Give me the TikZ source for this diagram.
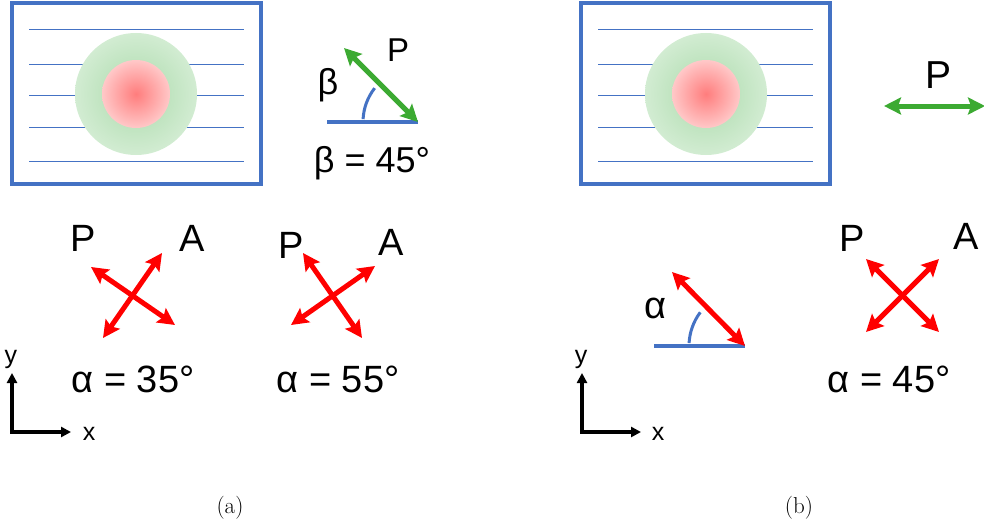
\documentclass[tikz,border=0pt]{standalone}
\usepackage{fontspec}
\newfontfamily\arialf{Liberation Sans}
\usetikzlibrary{arrows.meta}
\definecolor{ublue}{RGB}{68,114,196}
\definecolor{ugreen}{RGB}{60,170,50}
\definecolor{ured}{RGB}{255,0,0}
\definecolor{gin}{RGB}{170,218,170}
\definecolor{gout}{RGB}{210,236,210}
\definecolor{pin}{RGB}{255,125,125}
\definecolor{pout}{RGB}{255,200,200}
\begin{document}
\begin{tikzpicture}[x=1pt,y=-1pt,
  txt/.style={font=\arialf\fontsize{#1}{#1}\selectfont, inner sep=0pt, anchor=base},
  txt/.default=36,
  frame/.style={draw=ublue, line width=3.4pt},
  hline/.style={draw=ublue, line width=0.9pt},
  baseln/.style={draw=ublue, line width=3.2pt},
  anglearc/.style={draw=ublue, line width=3pt},
  redarr/.style={draw=ured, line width=5pt, {Stealth[length=17pt,width=17pt,inset=3pt]}-{Stealth[length=17pt,width=17pt,inset=3pt]}},
  grnarr/.style={draw=ugreen, line width=5pt, {Stealth[length=17pt,width=17pt,inset=3pt]}-{Stealth[length=17pt,width=17pt,inset=3pt]}},
  axis/.style={draw=black, line width=3.2pt, line join=miter, {Triangle[length=10pt,width=10pt]}-{Triangle[length=10pt,width=10pt]}},
  captxt/.style={font=\fontsize{23}{26}\selectfont, inner sep=0pt, anchor=base}
]
\useasboundingbox (0,0) rectangle (984,527);

% ---------- (a) sample ----------
\foreach \yy in {29,64,95,127,161} \draw[hline] (29,\yy) -- (244,\yy);
\shade[inner color=gin, outer color=gout] (136,94) circle[radius=61];
\shade[inner color=pin, outer color=pout] (136,94) circle[radius=34];
\draw[frame] (12,3) rectangle (261,184);

% beta diagram
\coordinate (bO) at (418,122);
\coordinate (bL) at (327,122);
\coordinate (bT) at (344,48);
\draw[baseln] (bL) -- (bO);
\draw[anglearc] (bO) ++(-177:55) arc[start angle=-177, end angle=-142, radius=55];
\draw[grnarr] (bT) -- (bO);
\node[txt=33] (bP) at (398,62) {P};
\node[txt=36] (bB) at (328,94) {β};
\node[txt=36] (bEq) at (372,172) {β = 45°};

% cross alpha=35
\coordinate (c1a) at (91,267);
\coordinate (c1b) at (175,325);
\coordinate (c1c) at (103,338);
\coordinate (c1d) at (162,253);
\draw[redarr] (c1a) -- (c1b);
\draw[redarr] (c1c) -- (c1d);
\node[txt=38] (c1P) at (83,251) {P};
\node[txt=38] (c1A) at (192,251) {A};
\node[txt=38] (c1Eq) at (133,392) {α = 35°};

% cross alpha=55
\coordinate (c2a) at (303,253);
\coordinate (c2b) at (362,338);
\coordinate (c2c) at (291,325);
\coordinate (c2d) at (375,266);
\draw[redarr] (c2a) -- (c2b);
\draw[redarr] (c2c) -- (c2d);
\node[txt=38] (c2P) at (291,258) {P};
\node[txt=38] (c2A) at (391,255) {A};
\node[txt=38] (c2Eq) at (338,392) {α = 55°};

% axes (a)
\coordinate (axY1) at (12,373);
\coordinate (axO1) at (12,432);
\coordinate (axX1) at (71,432);
\draw[axis] (axY1) -- (axO1) -- (axX1);
\node[txt=25] (ly1) at (11,363) {y};
\node[txt=25] (lx1) at (89,440) {x};

\node[captxt] (capa) at (230,513) {(a)};

% ---------- (b) sample ----------
\foreach \yy in {29,64,95,127,161} \draw[hline] (598,\yy) -- (813,\yy);
\shade[inner color=gin, outer color=gout] (706,94) circle[radius=61];
\shade[inner color=pin, outer color=pout] (706,94) circle[radius=34];
\draw[frame] (581,3) rectangle (830,184);

% horizontal P
\coordinate (hL) at (884,106);
\coordinate (hR) at (985,106);
\draw[grnarr] (hL) -- (hR);
\node[txt=39] (hP) at (938,88) {P};

% alpha diagram
\coordinate (aO) at (745,346);
\coordinate (aL) at (654,346);
\coordinate (aT) at (672,272);
\draw[baseln] (aL) -- (aO);
\draw[anglearc] (aO) ++(-177:56) arc[start angle=-177, end angle=-143, radius=56];
\draw[redarr] (aT) -- (aO);
\node[txt=38] (aA) at (655,318) {α};

% cross alpha=45
\coordinate (c3a) at (866,259);
\coordinate (c3b) at (939,332);
\coordinate (c3c) at (866,332);
\coordinate (c3d) at (939,259);
\draw[redarr] (c3a) -- (c3b);
\draw[redarr] (c3c) -- (c3d);
\node[txt=38] (c3P) at (852,251) {P};
\node[txt=38] (c3A) at (966,249) {A};
\node[txt=38] (c3Eq) at (889,392) {α = 45°};

% axes (b)
\coordinate (axY2) at (582,373);
\coordinate (axO2) at (582,432);
\coordinate (axX2) at (641,432);
\draw[axis] (axY2) -- (axO2) -- (axX2);
\node[txt=25] (ly2) at (581,363) {y};
\node[txt=25] (lx2) at (658,440) {x};

\node[captxt] (capb) at (799,513) {(b)};
\end{tikzpicture}
\end{document}
